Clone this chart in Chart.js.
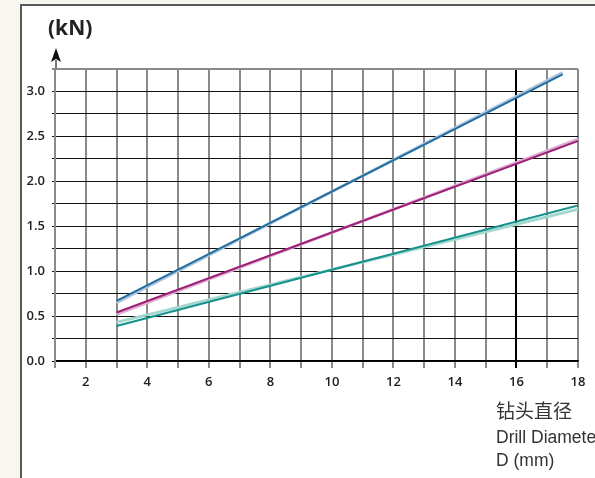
<!DOCTYPE html>
<html>
<head>
<meta charset="utf-8">
<script src="https://cdn.jsdelivr.net/npm/chart.js@4"></script>
<style>
  body { margin: 0; background: #f8f7ef; }
  #frame { position: absolute; left: 20px; top: 4px; right: 0; bottom: 0; background: #fff;
           border-left: 2px solid #5a5a5a; border-top: 2px solid #5a5a5a; }
  #chart { position: absolute; left: 0; top: 0; }
</style>
</head>
<body>
<div id="frame"></div>
<canvas id="chart" width="595" height="478"></canvas>
<script>
// drill diameter (mm) at the start and end of each line
const blueX = [3, 17.5];
const blueDark = [0.67, 3.19];
const blueLight = [0.65, 3.21];
const magentaX = [3, 18];
const magentaDark = [0.54, 2.45];
const magentaLight = [0.52, 2.47];
const tealX = [3, 18];
const tealDark = [0.39, 1.73];
const tealLight = [0.43, 1.69];

const pts = (xs, ys) => xs.map((x, i) => ({ x: x, y: ys[i] }));
// lower order is painted on top, so dark lines sit over their light shadows
const line = (data, color, width, order) => ({
  data: data, borderColor: color, borderWidth: width, order: order,
  pointRadius: 0, fill: false, tension: 0
});

const labelFont = { family: "'Open Sans', 'Noto Sans', sans-serif", size: 13, weight: "600" };

const extras = {
  id: "extras",
  afterDraw(chart) {
    const ctx = chart.ctx;
    const left = chart.chartArea.left;
    ctx.save();
    // axis arrow
    ctx.strokeStyle = "#777";
    ctx.lineWidth = 2;
    ctx.beginPath();
    ctx.moveTo(left + 1, chart.chartArea.top);
    ctx.lineTo(left + 1, 60);
    ctx.stroke();
    ctx.fillStyle = "#111";
    ctx.beginPath();
    ctx.moveTo(left + 1, 48);
    ctx.lineTo(left + 6, 62);
    ctx.lineTo(left + 1, 59);
    ctx.lineTo(left - 4, 62);
    ctx.closePath();
    ctx.fill();
    // unit
    ctx.fillStyle = "#222";
    ctx.font = "bold 21px 'Open Sans', 'Noto Sans', sans-serif";
    ctx.textBaseline = "alphabetic";
    ctx.fillText("(kN)", 48, 35);
    // x axis title
    ctx.fillStyle = "#333";
    ctx.font = "19px 'Noto Sans CJK SC', sans-serif";
    ctx.fillText("钻头直径", 496, 418);
    ctx.font = "17.5px 'Liberation Sans', Arial, sans-serif";
    ctx.fillText("Drill Diameter", 496, 443);
    ctx.fillText("D (mm)", 496, 466);
    ctx.restore();
  }
};

new Chart(document.getElementById("chart"), {
  type: "line",
  data: {
    datasets: [
      line(pts(blueX, blueLight), "#aec3dc", 3, 1),
      line(pts(blueX, blueDark), "#1f6e9e", 2, 0),
      line(pts(magentaX, magentaLight), "#dcb0d0", 3, 1),
      line(pts(magentaX, magentaDark), "#9e1f78", 2, 0),
      line(pts(tealX, tealLight), "#a3d8d1", 3, 1),
      line(pts(tealX, tealDark), "#17918c", 2, 0)
    ]
  },
  options: {
    responsive: false,
    animation: false,
    layout: { padding: { left: 0, top: 69, right: 17, bottom: 0 } },
    plugins: { legend: { display: false }, tooltip: { enabled: false } },
    scales: {
      x: {
        type: "linear",
        min: 1,
        max: 18,
        afterFit: (scale) => { scale.height = 117; },
        border: { display: true, color: "#000", width: 1.5 },
        grid: {
          color: (c) => (c.tick && c.tick.value === 16 ? "#000" : "#8a8a8a"),
          lineWidth: 2,
          tickLength: 7
        },
        ticks: {
          stepSize: 1,
          autoSkip: false,
          maxRotation: 0,
          padding: 6,
          color: "#222",
          font: labelFont,
          callback: (v) => (v % 2 === 0 ? v : "")
        }
      },
      y: {
        min: 0,
        max: 3.25,
        afterFit: (scale) => { scale.width = 55; },
        border: { display: true, color: "#8a8a8a", width: 2 },
        grid: {
          color: (c) => (c.tick && c.tick.value === 3.25 ? "#8a8a8a" : "#111"),
          lineWidth: (c) => (c.tick && c.tick.value === 3.25 ? 2 : 1),
          tickLength: 3
        },
        ticks: {
          stepSize: 0.25,
          autoSkip: false,
          padding: 7,
          color: "#222",
          font: labelFont,
          callback: (v) => (Math.abs(v * 2 - Math.round(v * 2)) < 1e-6 ? v.toFixed(1) : "")
        }
      }
    }
  },
  plugins: [extras]
});
</script>
</body>
</html>
